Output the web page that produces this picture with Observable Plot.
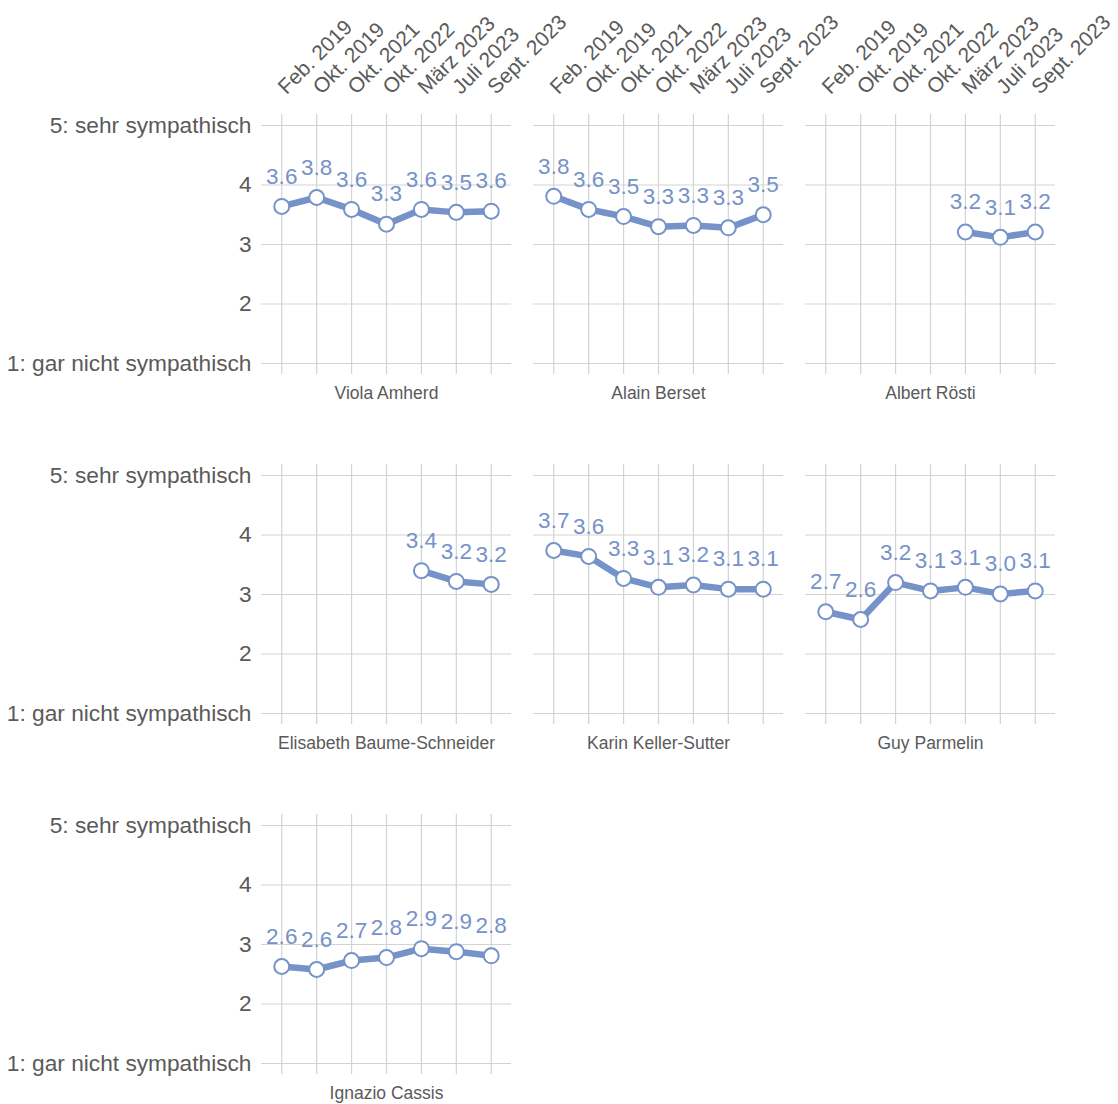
<!DOCTYPE html>
<html>
<head>
<meta charset="utf-8">
<script src="https://cdn.jsdelivr.net/npm/d3@7"></script>
<script src="https://cdn.jsdelivr.net/npm/@observablehq/plot@0.6"></script>
<style>
  html, body { margin: 0; padding: 0; background: #fff; }
</style>
</head>
<body>
<div id="chart"></div>
<script>
// Survey waves (x categories)
const waves = ["Feb. 2019", "Okt. 2019", "Okt. 2021", "Okt. 2022", "März 2023", "Juli 2023", "Sept. 2023"];

// Federal councillors (facets, in reading order)
const politicians = ["Viola Amherd", "Alain Berset", "Albert Rösti", "Elisabeth Baume-Schneider", "Karin Keller-Sutter", "Guy Parmelin", "Ignazio Cassis"];

// Mean sympathy (1 = gar nicht sympathisch ... 5 = sehr sympathisch); null = not surveyed
const amherd         = [3.64, 3.79, 3.59, 3.34, 3.59, 3.54, 3.56];
const berset         = [3.81, 3.59, 3.47, 3.30, 3.32, 3.28, 3.50];
const roesti         = [null, null, null, null, 3.21, 3.12, 3.21];
const baumeSchneider = [null, null, null, null, 3.40, 3.22, 3.17];
const kellerSutter   = [3.74, 3.64, 3.27, 3.12, 3.16, 3.09, 3.09];
const parmelin       = [2.71, 2.58, 3.20, 3.06, 3.12, 3.01, 3.06];
const cassis         = [2.63, 2.58, 2.73, 2.78, 2.93, 2.88, 2.81];

const series = [amherd, berset, roesti, baumeSchneider, kellerSutter, parmelin, cassis];

// Y tick values and labels
const yTicks = [1, 2, 3, 4, 5];
const yTickLabels = ["1: gar nicht sympathisch", "2", "3", "4", "5: sehr sympathisch"];

const nCols = 3;

const data = [];
politicians.forEach((name, i) => {
  series[i].forEach((v, j) => {
    if (v != null) data.push({name, wave: waves[j], value: v, col: i % nCols, row: Math.floor(i / nCols)});
  });
});
const facetsData = politicians.map((name, i) => ({name, col: i % nCols, row: Math.floor(i / nCols)}));

const blue = "#7592c9";
const grid = "#d3d3d3";
const textGray = "#5a5a5a";

const chart = Plot.plot({
  width: 1118,
  height: 1104,
  marginLeft: 261,
  marginRight: 63,
  marginTop: 114,
  marginBottom: 41,
  style: {fontFamily: "'Liberation Sans', Arial, Helvetica, sans-serif", background: "#fff"},
  fx: {domain: [0, 1, 2], axis: null, paddingInner: 0.0809, paddingOuter: 0, round: false},
  fy: {domain: [0, 1, 2], axis: null, paddingInner: 0.2886, paddingOuter: 0, round: false},
  x: {type: "point", domain: waves, padding: 0.58, round: false},
  y: {domain: [1, 5], insetTop: 11},
  marks: [
    Plot.gridY({ticks: yTicks, stroke: grid, strokeOpacity: 1, strokeWidth: 1.2}),
    Plot.gridX({stroke: grid, strokeOpacity: 1, strokeWidth: 1.2}),
    Plot.axisX({anchor: "bottom", facetAnchor: null, tickSize: 11, tickFormat: () => "", stroke: grid, strokeWidth: 1.2, label: null}),
    Plot.axisX({anchor: "top", tickSize: 0, tickPadding: 24, tickRotate: -45, fontSize: 21, fill: textGray, label: null,
      style: "letter-spacing: -0.3px"}),
    Plot.axisY({ticks: yTicks, tickSize: 0, tickPadding: 10, fontSize: 22.7, fill: textGray, label: null,
      tickFormat: d => yTickLabels[yTicks.indexOf(d)]}),
    Plot.line(data, {x: "wave", y: "value", fx: "col", fy: "row", z: "name", stroke: blue, strokeWidth: 6.5, curve: "linear"}),
    Plot.dot(data, {x: "wave", y: "value", fx: "col", fy: "row", r: 7.5, fill: "white", stroke: blue, strokeWidth: 2}),
    Plot.text(data, {x: "wave", y: "value", fx: "col", fy: "row", text: d => d.value.toFixed(1), dy: -30,
      fill: blue, fontSize: 22.5, lineAnchor: "middle"}),
    Plot.text(facetsData, {fx: "col", fy: "row", text: "name", frameAnchor: "bottom", dy: 30, lineAnchor: "middle",
      fill: textGray, fontSize: 17.5, style: "letter-spacing: 0.8px"})
  ]
});
document.getElementById("chart").appendChild(chart);
</script>
</body>
</html>
